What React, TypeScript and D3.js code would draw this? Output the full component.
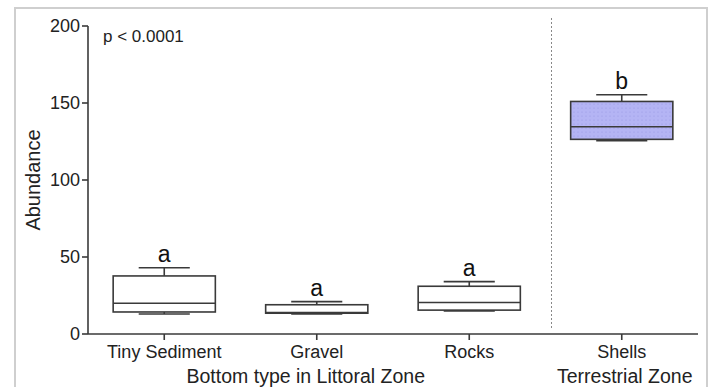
import React from 'react'
import * as d3 from 'd3'

const categories = ['Tiny Sediment', 'Gravel', 'Rocks', 'Shells']
const minValues = [13, 13, 15, 125.5]
const q1Values = [14.3, 13.5, 15.5, 126.4]
const medianValues = [20, 14, 20.5, 134.6]
const q3Values = [37.7, 19, 31, 151]
const maxValues = [43, 21, 34, 155.4]
const groupLetters = ['a', 'a', 'a', 'b']
const yTicks = [0, 50, 100, 150, 200]

const W = 715
const H = 387
const margin = { top: 26, right: 17, bottom: 53, left: 88 }

export default function App() {
  const innerW = W - margin.left - margin.right
  const innerH = H - margin.top - margin.bottom

  const x = d3.scaleBand().domain(categories).range([0, innerW]).padding(0)
  const y = d3.scaleLinear().domain([0, 200]).range([innerH, 0])

  const boxW = x.bandwidth() * 0.67
  const capW = x.bandwidth() * 0.335
  const font = 'Liberation Sans, Arial, sans-serif'
  const stroke = '#3a3a3a'
  const mid = (c: string) => x(c)! + x.bandwidth() / 2

  // divider between littoral and terrestrial groups
  const divX = (mid('Rocks') + mid('Shells')) / 2 + 6

  return (
    <svg width={W} height={H} style={{ position: 'absolute', left: 0, top: 0 }} fontFamily={font}>
      <defs>
        <pattern id="dots" width="4" height="4" patternUnits="userSpaceOnUse">
          <rect width="4" height="4" fill="#b4b4f4" />
          <circle cx="2" cy="2" r="0.6" fill="#9898e4" />
        </pattern>
      </defs>
      <rect x={0} y={0} width={W} height={H} fill="#fff" />
      <rect x={15} y={8} width={692} height={H} fill="none" stroke="#cfcfcf" strokeWidth={2} />
      <g transform={`translate(${margin.left},${margin.top})`}>
        {/* y axis */}
        <line x1={0} x2={0} y1={y(200)} y2={y(0)} stroke={stroke} strokeWidth={1.6} />
        {yTicks.map((t) => (
          <g key={t} transform={`translate(0,${y(t)})`}>
            <line x1={-6} x2={0} stroke={stroke} strokeWidth={1.6} />
            <text x={-8} dy="0.35em" textAnchor="end" fontSize={18} fill="#222">
              {t}
            </text>
          </g>
        ))}
        {/* x axis */}
        <line x1={0} x2={innerW} y1={innerH} y2={innerH} stroke={stroke} strokeWidth={1.6} />
        {categories.map((c) => (
          <g key={c}>
            <line x1={mid(c)} x2={mid(c)} y1={innerH} y2={innerH + 6} stroke={stroke} strokeWidth={1.6} />
            <text x={mid(c)} y={innerH + 24} textAnchor="middle" fontSize={18} fill="#222">
              {c}
            </text>
          </g>
        ))}
        <line
          x1={divX}
          x2={divX}
          y1={-8}
          y2={innerH - 4}
          stroke="#888"
          strokeWidth={1}
          strokeDasharray="2 2"
        />
        {/* boxes */}
        {categories.map((c, i) => {
          const cx = mid(c)
          const fill = c === 'Shells' ? 'url(#dots)' : '#fff'
          return (
            <g key={c} stroke={stroke} strokeWidth={1.6}>
              <line x1={cx} x2={cx} y1={y(maxValues[i])} y2={y(q3Values[i])} />
              <line x1={cx} x2={cx} y1={y(q1Values[i])} y2={y(minValues[i])} />
              <line x1={cx - capW / 2} x2={cx + capW / 2} y1={y(maxValues[i])} y2={y(maxValues[i])} />
              <line x1={cx - capW / 2} x2={cx + capW / 2} y1={y(minValues[i])} y2={y(minValues[i])} />
              <rect
                x={cx - boxW / 2}
                y={y(q3Values[i])}
                width={boxW}
                height={y(q1Values[i]) - y(q3Values[i])}
                fill={fill}
              />
              <line x1={cx - boxW / 2} x2={cx + boxW / 2} y1={y(medianValues[i])} y2={y(medianValues[i])} />
              <text
                x={cx}
                y={y(maxValues[i]) - 6}
                textAnchor="middle"
                fontSize={23}
                fill="#111"
                stroke="none"
              >
                {groupLetters[i]}
              </text>
            </g>
          )
        })}
        <text x={15} y={16} fontSize={17} fill="#222">
          p &lt; 0.0001
        </text>
        <text
          transform={`translate(${-48},${innerH / 2}) rotate(-90)`}
          textAnchor="middle"
          fontSize={20}
          fill="#222"
        >
          Abundance
        </text>
        <text x={mid('Gravel') - 11} y={innerH + 49} textAnchor="middle" fontSize={19.5} fill="#222">
          Bottom type in Littoral Zone
        </text>
        <text x={mid('Shells') + 3} y={innerH + 49} textAnchor="middle" fontSize={19.5} fill="#222">
          Terrestrial Zone
        </text>
      </g>
    </svg>
  )
}
